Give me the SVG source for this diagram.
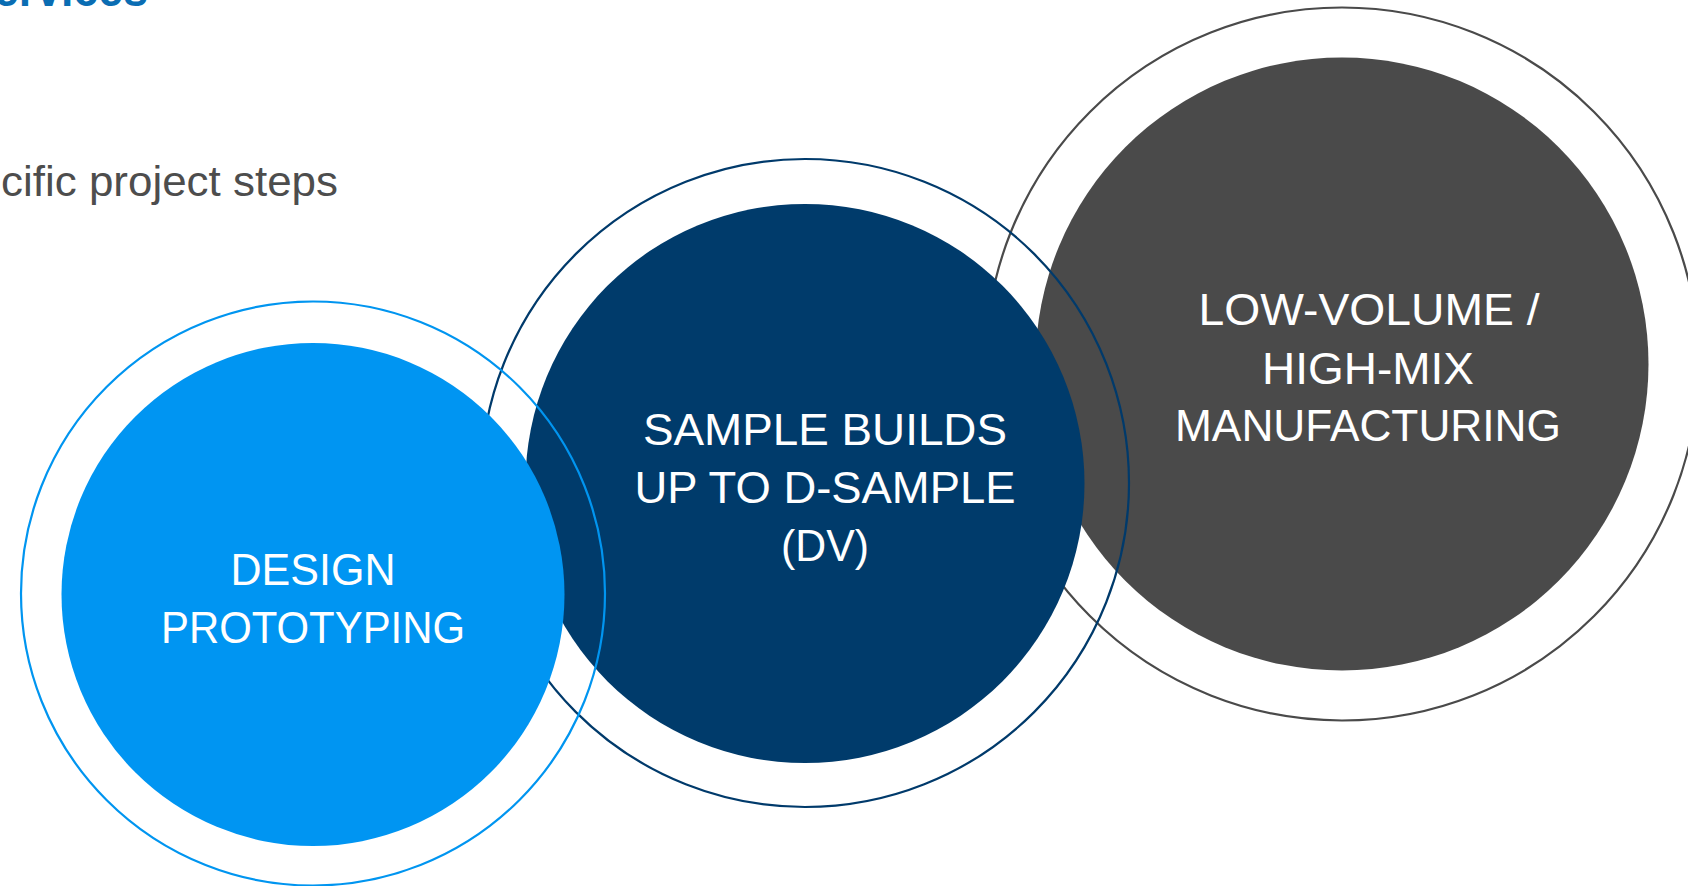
<svg xmlns="http://www.w3.org/2000/svg" width="1688" height="886" viewBox="0 0 1688 886">
  <style>
    .ring { fill: none; stroke-width: 2.2; }
    .lbl { font-family: "Liberation Sans", Arial, sans-serif; font-size: 45px; fill: #ffffff; text-anchor: middle; }
    .head { font-family: "Liberation Sans", Arial, sans-serif; }
  </style>
  <rect width="1688" height="886" fill="#ffffff"/>
  <text class="head" x="-6" y="6" font-size="48" font-weight="bold" fill="#0a6db3" textLength="154" lengthAdjust="spacingAndGlyphs">ervices</text>
  <text class="head" x="1" y="196" font-size="43" fill="#4d4d4d" textLength="337" lengthAdjust="spacingAndGlyphs">cific project steps</text>

  <g id="node-manufacturing">
    <circle class="ring" cx="1342" cy="364" r="356.5" stroke="#4a4a4a"/>
    <circle cx="1342" cy="364" r="306.5" fill="#4a4a4a"/>
    <text class="lbl" x="1369" y="325" textLength="341" lengthAdjust="spacingAndGlyphs">LOW-VOLUME /</text>
    <text class="lbl" x="1368" y="384" textLength="212" lengthAdjust="spacingAndGlyphs">HIGH-MIX</text>
    <text class="lbl" x="1368" y="441" textLength="386" lengthAdjust="spacingAndGlyphs">MANUFACTURING</text>
  </g>

  <g id="node-sample">
    <circle class="ring" cx="805" cy="483" r="324" stroke="#003a6b"/>
    <circle cx="805" cy="483.5" r="279.5" fill="#003b6b"/>
    <text class="lbl" x="825" y="445" textLength="364" lengthAdjust="spacingAndGlyphs">SAMPLE BUILDS</text>
    <text class="lbl" x="825" y="503" textLength="381" lengthAdjust="spacingAndGlyphs">UP TO D-SAMPLE</text>
    <text class="lbl" x="825" y="561" textLength="88" lengthAdjust="spacingAndGlyphs">(DV)</text>
  </g>

  <g id="node-design">
    <circle class="ring" cx="313" cy="593.5" r="292" stroke="#0095f0"/>
    <circle cx="313" cy="594.5" r="251.5" fill="#0095f2"/>
    <text class="lbl" x="313" y="585" textLength="165" lengthAdjust="spacingAndGlyphs">DESIGN</text>
    <text class="lbl" x="313" y="643" textLength="304" lengthAdjust="spacingAndGlyphs">PROTOTYPING</text>
  </g>

  <g id="connectors"></g>
</svg>
